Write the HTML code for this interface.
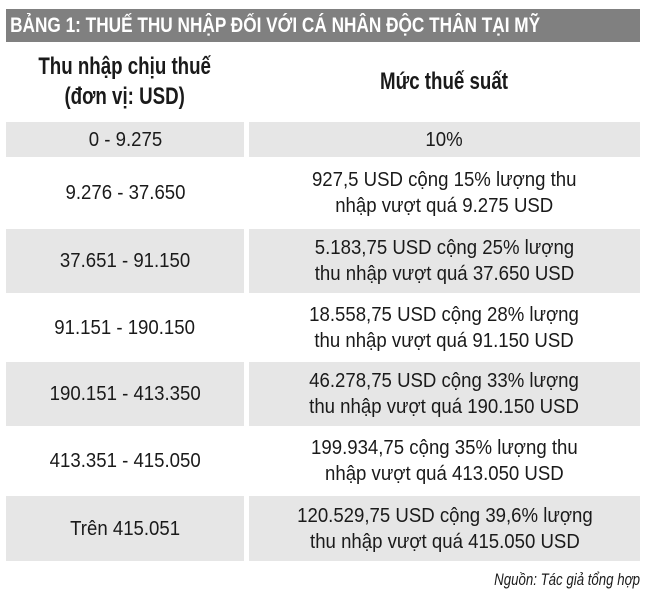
<!DOCTYPE html>
<html><head><meta charset="utf-8"><style>
body{margin:0;width:650px;height:601px;background:#fff;font-family:"Liberation Sans",sans-serif;position:relative;overflow:hidden;color:#1a1a1a}
.bar{position:absolute;left:6px;width:634px;top:9px;height:33px;background:#808080;color:#fff;font-weight:bold;font-size:21px;line-height:33px;white-space:nowrap}
.bar span{display:inline-block;transform:scaleX(0.82);transform-origin:left;padding-left:5px}
.c{position:absolute;display:flex;align-items:center;justify-content:center;text-align:center;font-size:20px;line-height:26px;white-space:nowrap}
.c span{display:inline-block;transform:scaleX(0.93)}
.g{background:#e6e6e6}
.h{font-weight:bold;font-size:24px;line-height:30px}
.h span{display:inline-block;transform:scaleX(0.78)}
.src{position:absolute;right:10px;top:570px;font-style:italic;font-size:17px;transform:scaleX(0.78);transform-origin:right}
</style></head><body>
<div class="bar"><span>BẢNG 1: THUẾ THU NHẬP ĐỐI VỚI CÁ NHÂN ĐỘC THÂN TẠI MỸ</span></div>
<div class="c h" style="left:6px;width:238px;top:45px;height:74px"><span>Thu nhập chịu thuế<br>(đơn vị: USD)</span></div>
<div class="c h" style="left:249px;width:391px;top:45px;height:74px"><span>Mức thuế suất</span></div>

<div class="c g" style="left:6px;width:238px;top:122px;height:35px"><span>0 - 9.275</span></div>
<div class="c g" style="left:249px;width:391px;top:122px;height:35px"><span>10%</span></div>

<div class="c" style="left:6px;width:238px;top:160px;height:66px"><span>9.276 - 37.650</span></div>
<div class="c" style="left:249px;width:391px;top:160px;height:66px"><span>927,5 USD cộng 15% lượng thu<br>nhập vượt quá 9.275 USD</span></div>

<div class="c g" style="left:6px;width:238px;top:229px;height:64px"><span>37.651 - 91.150</span></div>
<div class="c g" style="left:249px;width:391px;top:229px;height:64px"><span>5.183,75 USD cộng 25% lượng<br>thu nhập vượt quá 37.650 USD</span></div>

<div class="c" style="left:6px;width:238px;top:296px;height:63px"><span>91.151 - 190.150</span></div>
<div class="c" style="left:249px;width:391px;top:296px;height:63px"><span>18.558,75 USD cộng 28% lượng<br>thu nhập vượt quá 91.150 USD</span></div>

<div class="c g" style="left:6px;width:238px;top:362px;height:64px"><span>190.151 - 413.350</span></div>
<div class="c g" style="left:249px;width:391px;top:362px;height:64px"><span>46.278,75 USD cộng 33% lượng<br>thu nhập vượt quá 190.150 USD</span></div>

<div class="c" style="left:6px;width:238px;top:429px;height:64px"><span>413.351 - 415.050</span></div>
<div class="c" style="left:249px;width:391px;top:429px;height:64px"><span>199.934,75 cộng 35% lượng thu<br>nhập vượt quá 413.050 USD</span></div>

<div class="c g" style="left:6px;width:238px;top:496px;height:65px"><span>Trên 415.051</span></div>
<div class="c g" style="left:249px;width:391px;top:496px;height:65px"><span>120.529,75 USD cộng 39,6% lượng<br>thu nhập vượt quá 415.050 USD</span></div>

<div class="src">Nguồn: Tác giả tổng hợp</div>
</body></html>
